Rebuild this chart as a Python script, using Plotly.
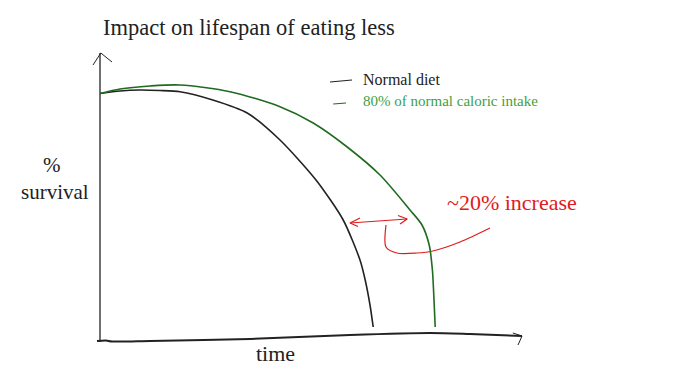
import plotly.graph_objects as go

# ---- data (time units, % survival) ----
normal_time = [0, 5, 10, 15, 20, 28.2, 36.8, 45, 54, 60.8, 65, 66.3, 67.5, 68.3]
normal_surv = [98.6, 99.6, 100, 99.8, 99.3, 96, 90.8, 80, 64, 48, 32, 24, 14, 5.2]

cr_time = [0, 5, 12.5, 20, 32.5, 45, 53.3, 61.8, 70, 77.5, 80.5, 82.3, 83.1, 83.5, 83.8]
cr_surv = [98.6, 100.4, 101.6, 102, 99.3, 93.3, 86.8, 77.2, 66, 52, 46, 38, 28, 16, 5.2]

# hand-drawn axes
xaxis_x = [-0.75, 1.5, 3, 12.5, 37.5, 62.5, 82.5, 92.5, 105.5]
xaxis_y = [-0.4, -0.2, -0.6, -0.4, 0.4, 2, 2.8, 2.4, 1.6]
xhead_x = [103.2, 105.5, 104.5]
xhead_y = [2.8, 1.6, -2]
yaxis_x = [0, 0]
yaxis_y = [-0.8, 114.8]
yhead_x = [-1.75, 0.2, 3]
yhead_y = [110, 114.8, 111.2]

# legend strokes
leg_black_x = [57.5, 63]
leg_black_y = [103.2, 104]
leg_green_x = [58.3, 61.5]
leg_green_y = [94.4, 94.8]

# red annotation strokes
arrow_x = [62.5, 76.8]
arrow_y = [46.8, 48.4]
lhead_x = [65, 62.5, 64.5]
lhead_y = [48.8, 46.8, 45.4]
rhead_x = [74.5, 76.8, 75]
rhead_y = [49.8, 48.4, 46.4]
hook_x = [71.5, 71.5, 74.2, 79.2, 83.2, 90, 97.5]
hook_y = [46, 37.2, 34.8, 34.8, 35.6, 39.2, 44.8]

BLACK = "#222222"
GREEN = "#1f6b1f"
LGREEN = "#3f9f3f"
RED = "#e01b1b"
FONT = "Liberation Serif"

fig = go.Figure()

def line(x, y, color, width, shape="spline", smoothing=0.8):
    fig.add_trace(go.Scatter(x=x, y=y, mode="lines",
                             line=dict(color=color, width=width, shape=shape, smoothing=smoothing),
                             hoverinfo="skip", showlegend=False))

line(xaxis_x, xaxis_y, BLACK, 2)
line(xhead_x, xhead_y, BLACK, 1, "linear")
line(yaxis_x, yaxis_y, BLACK, 1.3, "linear")
line(yhead_x, yhead_y, BLACK, 1, "linear")
line(normal_time, normal_surv, BLACK, 1.6, "spline", 0.7)
line(cr_time, cr_surv, GREEN, 1.6, "spline", 0.8)
line(leg_black_x, leg_black_y, BLACK, 1.2)
line(leg_green_x, leg_green_y, GREEN, 1.2)
line(arrow_x, arrow_y, RED, 1.2, "linear")
line(lhead_x, lhead_y, RED, 1.2, "linear")
line(rhead_x, rhead_y, RED, 1.2, "linear")
line(hook_x, hook_y, RED, 1.2)

def text(x, y, s, size, color=BLACK, anchor="left"):
    fig.add_annotation(x=x, y=y, text=s, showarrow=False, xanchor=anchor, yanchor="middle",
                       font=dict(family=FONT, size=size, color=color))

text(0.25, 125.2, "Impact on lifespan of eating less", 22.5)
text(65.2, 104.4, "Normal diet", 16)
text(65.2, 95.6, "80% of normal caloric intake", 15, LGREEN)
text(86.2, 55.2, "~20% increase", 22, RED)
text(-12, 70, "%", 21, anchor="center")
text(-11.2, 59.2, "survival", 21, anchor="center")
text(43.8, -5.2, "time", 22, anchor="center")

fig.update_layout(
    width=700, height=369,
    margin=dict(l=0, r=0, t=0, b=0),
    paper_bgcolor="white", plot_bgcolor="white",
    xaxis=dict(range=[-25, 150], visible=False),
    yaxis=dict(range=[-11.6, 136], visible=False),
    showlegend=False,
)

fig.write_html("out.html", config={"displayModeBar": False},
               post_script="document.body.style.margin='0';document.body.style.overflow='hidden';")
